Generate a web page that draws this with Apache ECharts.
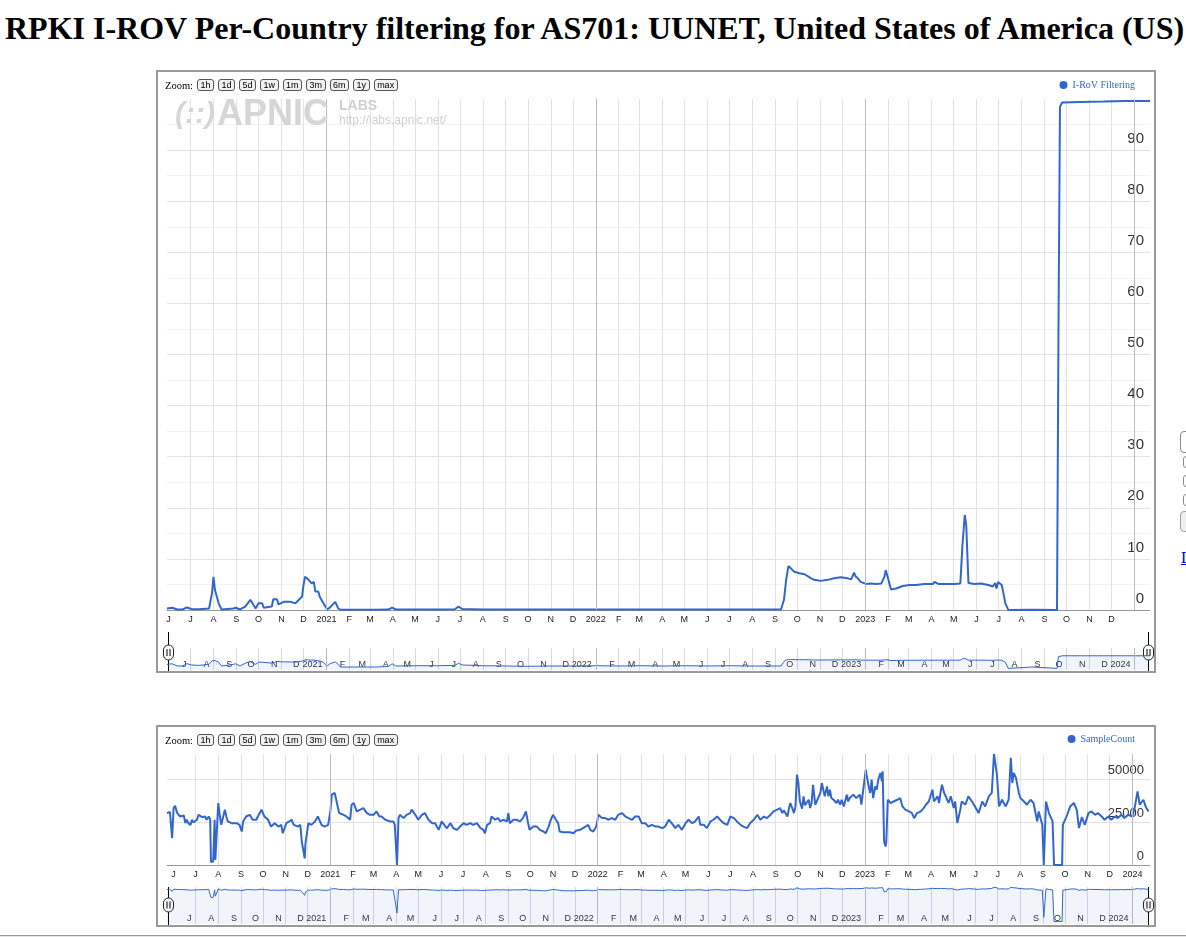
<!DOCTYPE html>
<html>
<head>
<meta charset="utf-8">
<title>RPKI I-ROV Per-Country filtering for AS701</title>
<script src="https://cdn.jsdelivr.net/npm/echarts@6/dist/echarts.min.js"></script>
<style>
  html, body { margin: 0; padding: 0; width: 1186px; height: 937px; overflow: hidden; background: #fff; }
  h1 { position: absolute; left: 5px; top: 12px; margin: 0; white-space: nowrap; color: #000;
       font: bold 32px/32px "Liberation Serif", "Times New Roman", serif; }
  .box { position: absolute; left: 156px; width: 996px; border: 2px solid #9a9a9a; }
  #box1 { top: 70px; height: 599px; }
  #box2 { top: 725px; height: 198px; }
  .chart { position: absolute; left: 0; top: 0; width: 996px; height: 100%; }
  .zoombar { position: absolute; left: 7px; top: 7px; display: flex; align-items: center; gap: 4px; z-index: 2;
             font: 10.5px "Liberation Serif", serif; color: #000; }
  .zoombar button { box-sizing: border-box; height: 12px; margin: 0; padding: 0 2.5px; line-height: 10px;
                    font: 9px "Liberation Sans", Arial, sans-serif; color: #000;
                    border: 1px solid #555; border-radius: 3px; background: #f2f2f2; }
  .hr { position: absolute; left: 0; top: 935px; width: 1186px; border-top: 1px solid #9a9a9a; border-bottom: 1px solid #e6e6e6; }
  .side { position: absolute; box-sizing: border-box; border: 1px solid #8a8a8a; border-radius: 4px; background: #fff; }
  .side.btn { background: #efefef; border-color: #a0a0a0; }
  .side-link { position: absolute; left: 1181px; top: 549px; font: 16px "Liberation Serif", serif; color: #0000ee; text-decoration: underline; white-space: nowrap; }
</style>
</head>
<body>
<h1>RPKI I-ROV Per-Country filtering for AS701: UUNET, United States of America (US)</h1>

<div class="box" id="box1">
  <div class="chart" id="chart1"></div>
  <div class="zoombar"><span>Zoom:</span><button>1h</button><button>1d</button><button>5d</button><button>1w</button><button>1m</button><button>3m</button><button>6m</button><button>1y</button><button>max</button></div>
</div>

<div class="box" id="box2">
  <div class="chart" id="chart2"></div>
  <div class="zoombar"><span>Zoom:</span><button>1h</button><button>1d</button><button>5d</button><button>1w</button><button>1m</button><button>3m</button><button>6m</button><button>1y</button><button>max</button></div>
</div>

<div class="hr"></div>

<div class="side" style="left:1180px;top:431px;width:40px;height:22px;"></div>
<div class="side" style="left:1183px;top:456px;width:12px;height:12px;border-radius:3px;"></div>
<div class="side" style="left:1183px;top:475px;width:12px;height:12px;border-radius:3px;"></div>
<div class="side" style="left:1183px;top:494px;width:12px;height:12px;border-radius:3px;"></div>
<div class="side btn" style="left:1180px;top:511px;width:40px;height:21px;"></div>
<a class="side-link">Download</a>

<script>
// axis labels
const monthLetters = ['J', 'F', 'M', 'A', 'M', 'J', 'J', 'A', 'S', 'O', 'N', 'D'];
const yearStarts = ['2021-01-01', '2022-01-01', '2023-01-01', '2024-01-01'];

// I-RoV filtering (%)
const irovRange = ['2020-05-30', '2024-01-22'];
const irovYLabels = [0, 10, 20, 30, 40, 50, 60, 70, 80, 90];
const irovDates = [
  '2020-05-30','2020-06-06','2020-06-13','2020-06-20','2020-06-26','2020-07-02','2020-07-12','2020-07-26','2020-07-30','2020-08-01',
  '2020-08-03','2020-08-08','2020-08-12','2020-08-28','2020-08-31','2020-09-06','2020-09-13','2020-09-20','2020-09-27','2020-10-01',
  '2020-10-06','2020-10-08','2020-10-19','2020-10-21','2020-10-26','2020-10-28','2020-11-04','2020-11-13','2020-11-20','2020-11-24',
  '2020-11-29','2020-12-01','2020-12-03','2020-12-08','2020-12-10','2020-12-12','2020-12-15','2020-12-17','2020-12-21','2020-12-23',
  '2020-12-28','2021-01-02','2021-01-06','2021-01-13','2021-01-17','2021-01-20','2021-02-15','2021-03-10','2021-03-26','2021-03-31',
  '2021-04-05','2021-05-01','2021-06-01','2021-06-24','2021-06-29','2021-07-04','2021-08-01','2021-09-01','2021-10-01','2021-11-01',
  '2021-12-01','2022-01-01','2022-02-01','2022-03-01','2022-04-01','2022-05-01','2022-06-01','2022-07-01','2022-08-01','2022-09-09',
  '2022-09-13','2022-09-16','2022-09-19','2022-09-22','2022-09-27','2022-10-04','2022-10-11','2022-10-13','2022-10-20','2022-10-24',
  '2022-11-02','2022-11-11','2022-11-20','2022-11-29','2022-12-08','2022-12-13','2022-12-17','2022-12-19','2022-12-22','2022-12-26',
  '2023-01-02','2023-01-09','2023-01-16','2023-01-23','2023-01-27','2023-01-29','2023-02-01','2023-02-05','2023-02-12','2023-02-21',
  '2023-03-02','2023-03-11','2023-03-22','2023-04-03','2023-04-05','2023-04-10','2023-04-23','2023-05-02','2023-05-10','2023-05-13',
  '2023-05-16','2023-05-18','2023-05-21','2023-05-29','2023-06-07','2023-06-17','2023-06-23','2023-06-26','2023-06-28','2023-06-30',
  '2023-07-05','2023-07-07','2023-07-10','2023-07-14','2023-08-15','2023-09-18','2023-09-20','2023-09-22','2023-09-25','2023-10-20',
  '2023-11-20','2023-12-20','2024-01-22'
];
const irovValues = [
  0.3, 0.45, 0.1, 0.1, 0.5, 0.2, 0.15, 0.3, 3.3, 6.5,
  3.9, 1.3, 0.1, 0.3, 0.45, 0.1, 0.65, 2.0, 0.3, 1.3,
  1.3, 0.45, 0.7, 2.1, 2.1, 1.1, 1.6, 1.6, 1.3, 1.9,
  2.6, 4.9, 6.5, 5.9, 5.8, 5.2, 5.5, 3.6, 3.6, 2.6,
  1.3, 0.1, 0.5, 1.6, 0.3, 0.05, 0.05, 0.05, 0.08, 0.45,
  0.1, 0.12, 0.12, 0.15, 0.65, 0.2, 0.12, 0.1, 0.08, 0.1,
  0.1, 0.12, 0.1, 0.12, 0.1, 0.12, 0.1, 0.12, 0.1, 0.1,
  2.0, 5.9, 8.6, 8.2, 7.5, 7.2, 7.0, 6.8, 6.2, 5.9,
  5.7, 5.9, 6.2, 6.4, 6.2, 6.0, 7.3, 6.6, 6.2, 5.5,
  5.1, 5.2, 5.1, 5.2, 6.5, 7.8, 6.2, 4.0, 4.2, 4.7,
  4.9, 4.9, 5.1, 5.1, 5.5, 5.1, 5.1, 5.1, 5.2, 13.0,
  18.6, 16.6, 5.3, 5.1, 5.2, 4.9, 4.6, 5.3, 4.2, 5.5,
  4.9, 3.6, 1.3, 0.02, 0.05, 0.02, 55, 98.5, 99.3, 99.4,
  99.5, 99.6, 99.6
];

// sample count
const sampleRange = ['2020-05-23', '2024-01-25'];
const sampleYLabels = [0, 25000, 50000];
const sampleDates = [
  '2020-05-23','2020-05-27','2020-05-30','2020-06-01','2020-06-03','2020-06-06','2020-06-08','2020-06-10','2020-06-15','2020-06-17',
  '2020-06-19','2020-06-21','2020-06-24','2020-06-26','2020-06-28','2020-07-03','2020-07-05','2020-07-10','2020-07-14','2020-07-16',
  '2020-07-19','2020-07-21','2020-07-22','2020-07-25','2020-07-27','2020-07-28','2020-07-30','2020-08-01','2020-08-03','2020-08-05',
  '2020-08-10','2020-08-12','2020-08-14','2020-08-19','2020-08-21','2020-08-26','2020-08-30','2020-09-02','2020-09-04','2020-09-08',
  '2020-09-13','2020-09-17','2020-09-22','2020-09-24','2020-09-29','2020-10-03','2020-10-08','2020-10-12','2020-10-17','2020-10-22',
  '2020-10-26','2020-10-28','2020-11-02','2020-11-06','2020-11-09','2020-11-12','2020-11-18','2020-11-21','2020-11-23','2020-11-27',
  '2020-11-28','2020-12-02','2020-12-06','2020-12-11','2020-12-15','2020-12-20','2020-12-24','2020-12-29','2021-01-01','2021-01-03',
  '2021-01-05','2021-01-07','2021-01-10','2021-01-13','2021-01-19','2021-01-23','2021-01-28','2021-01-30','2021-02-02','2021-02-06',
  '2021-02-11','2021-02-15','2021-02-20','2021-02-24','2021-03-01','2021-03-05','2021-03-09','2021-03-12','2021-03-17','2021-03-19',
  '2021-03-24','2021-03-28','2021-03-30','2021-04-02','2021-04-04','2021-04-06','2021-04-11','2021-04-15','2021-04-20','2021-04-22',
  '2021-04-27','2021-05-01','2021-05-06','2021-05-10','2021-05-15','2021-05-20','2021-05-24','2021-05-29','2021-06-02','2021-06-09',
  '2021-06-14','2021-06-18','2021-06-23','2021-06-27','2021-07-02','2021-07-06','2021-07-11','2021-07-15','2021-07-20','2021-07-25',
  '2021-07-29','2021-07-31','2021-08-03','2021-08-07','2021-08-09','2021-08-14','2021-08-18','2021-08-21','2021-08-25','2021-08-30',
  '2021-09-01','2021-09-03','2021-09-08','2021-09-12','2021-09-17','2021-09-21','2021-09-25','2021-09-28','2021-09-30','2021-10-05',
  '2021-10-10','2021-10-14','2021-10-19','2021-10-22','2021-10-26','2021-10-29','2021-11-01','2021-11-05','2021-11-08','2021-11-10',
  '2021-11-15','2021-11-20','2021-11-24','2021-11-29','2021-12-02','2021-12-08','2021-12-12','2021-12-19','2021-12-22','2021-12-26',
  '2021-12-30','2022-01-02','2022-01-07','2022-01-11','2022-01-16','2022-01-20','2022-01-25','2022-01-29','2022-02-03','2022-02-08',
  '2022-02-12','2022-02-17','2022-02-21','2022-02-26','2022-03-02','2022-03-07','2022-03-11','2022-03-16','2022-03-21','2022-03-25',
  '2022-03-30','2022-04-03','2022-04-08','2022-04-12','2022-04-17','2022-04-21','2022-04-26','2022-05-01','2022-05-05','2022-05-10',
  '2022-05-14','2022-05-19','2022-05-21','2022-05-26','2022-05-30','2022-06-04','2022-06-08','2022-06-13','2022-06-17','2022-06-22',
  '2022-06-27','2022-07-01','2022-07-06','2022-07-10','2022-07-15','2022-07-19','2022-07-24','2022-07-28','2022-08-02','2022-08-07',
  '2022-08-11','2022-08-16','2022-08-20','2022-08-25','2022-08-29','2022-09-03','2022-09-07','2022-09-10','2022-09-12','2022-09-17',
  '2022-09-19','2022-09-21','2022-09-26','2022-09-28','2022-09-30','2022-10-02','2022-10-04','2022-10-07','2022-10-09','2022-10-11',
  '2022-10-13','2022-10-16','2022-10-18','2022-10-20','2022-10-22','2022-10-25','2022-10-27','2022-11-01','2022-11-03','2022-11-05',
  '2022-11-07','2022-11-10','2022-11-12','2022-11-14','2022-11-16','2022-11-19','2022-11-21','2022-11-23','2022-11-25','2022-11-28',
  '2022-11-30','2022-12-03','2022-12-07','2022-12-09','2022-12-11','2022-12-16','2022-12-20','2022-12-25','2022-12-27','2022-12-29',
  '2023-01-02','2023-01-03','2023-01-06','2023-01-08','2023-01-10','2023-01-12','2023-01-15','2023-01-17','2023-01-19','2023-01-22',
  '2023-01-24','2023-01-25','2023-01-27','2023-01-29','2023-01-30','2023-02-01','2023-02-05','2023-02-09','2023-02-14','2023-02-18',
  '2023-02-21','2023-02-25','2023-03-02','2023-03-06','2023-03-09','2023-03-13','2023-03-18','2023-03-22','2023-03-25','2023-03-29',
  '2023-04-03','2023-04-05','2023-04-10','2023-04-12','2023-04-14','2023-04-16','2023-04-19','2023-04-21','2023-04-25','2023-04-28',
  '2023-05-02','2023-05-04','2023-05-07','2023-05-11','2023-05-13','2023-05-18','2023-05-22','2023-05-27','2023-05-31','2023-06-05',
  '2023-06-10','2023-06-14','2023-06-19','2023-06-23','2023-06-26','2023-06-28','2023-06-30','2023-07-03','2023-07-07','2023-07-12',
  '2023-07-16','2023-07-19','2023-07-21','2023-07-23','2023-07-26','2023-07-30','2023-08-01','2023-08-06','2023-08-10','2023-08-15',
  '2023-08-19','2023-08-24','2023-08-26','2023-08-31','2023-09-02','2023-09-05','2023-09-09','2023-09-14','2023-09-16','2023-09-22',
  '2023-09-27','2023-09-28','2023-10-04','2023-10-08','2023-10-13','2023-10-17','2023-10-20','2023-10-24','2023-10-28','2023-11-02',
  '2023-11-06','2023-11-11','2023-11-15','2023-11-20','2023-11-24','2023-11-29','2023-12-03','2023-12-08','2023-12-12','2023-12-17',
  '2023-12-21','2023-12-26','2024-01-01','2024-01-04','2024-01-08','2024-01-11','2024-01-16','2024-01-19','2024-01-23'
];
const sampleValues = [
  30400, 31000, 15700, 33300, 34600, 30400, 31000, 28400, 29000, 24500,
  26500, 24500, 23500, 26500, 25000, 26500, 29400, 28000, 28400, 26500,
  28400, 26500, 1950, 1950, 26500, 3000, 1950, 36300, 29400, 23500,
  32400, 28400, 25500, 24500, 23500, 24500, 23500, 19600, 25500, 28400,
  29400, 26500, 26500, 28400, 32400, 28400, 26500, 22500, 24500, 22500,
  23500, 18600, 24500, 25500, 26500, 23500, 22500, 23500, 13700, 3900,
  12500, 24500, 23500, 25500, 28400, 23500, 22500, 23500, 31350, 41200,
  40300, 42200, 36300, 30400, 29400, 28400, 26500, 35300, 36300, 31350,
  32400, 33350, 30400, 29400, 29400, 31350, 28400, 28400, 26500, 27450,
  25500, 25500, 23500, 9, 27450, 29400, 27450, 29400, 30400, 32400,
  29400, 26500, 29400, 30400, 26500, 24500, 24500, 20600, 25500, 21500,
  24500, 21500, 20600, 22500, 24500, 23500, 24500, 23500, 24500, 21600,
  20600, 18600, 23500, 24500, 28400, 26500, 27450, 25500, 26500, 25500,
  30400, 24500, 26500, 26500, 25500, 27450, 31350, 24500, 20600, 22500,
  22500, 20600, 19600, 18600, 22500, 26500, 29400, 26500, 24500, 19600,
  19200, 19200, 19200, 18600, 20000, 20600, 21600, 23500, 20600, 19600,
  22500, 29400, 27450, 27450, 26500, 27450, 26500, 29400, 30400, 28400,
  27450, 26500, 28400, 28400, 24500, 24500, 22500, 23500, 22500, 22500,
  21600, 22500, 26500, 24500, 21600, 23500, 20600, 24500, 26500, 24500,
  25500, 28400, 23500, 23500, 21600, 25500, 26500, 28400, 26500, 24500,
  23500, 28400, 27450, 25500, 23500, 22500, 21600, 24500, 26500, 29400,
  26500, 28400, 27450, 29400, 31350, 32400, 33350, 30400, 32000, 28400,
  33000, 36300, 30400, 34300, 52900, 48000, 37200, 33000, 40200, 35000,
  34300, 38200, 33350, 36300, 47000, 35300, 37200, 42200, 48000, 44100,
  40200, 46000, 40200, 44100, 39200, 38200, 37200, 36300, 38200, 35300,
  38200, 34300, 41200, 37200, 39200, 41200, 39200, 41200, 35300, 42200,
  55900, 52900, 46000, 42200, 50000, 39200, 46000, 44100, 50000, 53900,
  49000, 54900, 13700, 10800, 13700, 38200, 36300, 37200, 38200, 39200,
  34300, 32400, 31350, 30400, 27450, 30400, 31350, 33350, 35300, 37200,
  44100, 37200, 40200, 36300, 42200, 47000, 42200, 43100, 36300, 40200,
  33350, 37200, 24500, 32400, 37200, 35300, 40200, 37200, 34300, 30400,
  37200, 34300, 40200, 42200, 65000, 59000, 52900, 34300, 38200, 34300,
  38200, 62800, 48000, 53900, 51000, 42200, 39200, 37200, 35300, 38200,
  36300, 25500, 31350, 23500, 2, 37200, 30400, 25500, 0.5, 0.5,
  0.5, 23500, 29400, 34300, 36300, 32400, 21600, 28000, 23500, 30400,
  31350, 29400, 30400, 28400, 26500, 28400, 26500, 28400, 27450, 29400,
  27450, 29400, 28400, 33350, 43100, 35300, 38200, 34300, 31350
];

function day(s) {
  const p = s.split('-').map(Number);
  return new Date(p[0], p[1] - 1, p[2]).getTime();
}

// first day of every month inside the range
function monthTicks(range) {
  const a = new Date(day(range[0]));
  const end = day(range[1]);
  const out = [];
  for (let m = a.getMonth() + 1; ; m++) {
    const t = new Date(a.getFullYear(), m, 1).getTime();
    if (t > end) break;
    out.push(t);
  }
  return out;
}

function monthLabel(v) {
  const d = new Date(v);
  return d.getMonth() === 0 ? String(d.getFullYear()) : monthLetters[d.getMonth()];
}

function handle(x, top, bottom, cy, h) {
  return {
    type: 'group', z: 30, silent: true,
    children: [
      { type: 'line', shape: { x1: x, y1: top, x2: x, y2: bottom }, style: { stroke: '#000', lineWidth: 1 } },
      { type: 'rect', shape: { x: x - 5, y: cy - h / 2, width: 10, height: h, r: 5 }, style: { fill: '#fff', stroke: '#222', lineWidth: 1 } },
      { type: 'line', shape: { x1: x - 1.5, y1: cy - 3.5, x2: x - 1.5, y2: cy + 3.5 }, style: { stroke: '#000', lineWidth: 1 } },
      { type: 'line', shape: { x1: x + 1.5, y1: cy - 3.5, x2: x + 1.5, y2: cy + 3.5 }, style: { stroke: '#000', lineWidth: 1 } }
    ]
  };
}

function timelineOption(c) {
  const t0 = day(c.range[0]);
  const t1 = day(c.range[1]);
  const ticks = monthTicks(c.range);
  const mainLabels = ticks.filter(t => t <= day(c.lastMainLabel));
  const navLabels = ticks.filter(t => t - t0 > 10 * 864e5);
  const main = c.dates.map((d, i) => [day(d), c.values[i]]);
  const nav = c.dates.map((d, i) => [day(d), Math.max(c.values[i], c.navFloor)]);
  const years = yearStarts.map(s => ({ xAxis: day(s) })).filter(o => o.xAxis > t0 && o.xAxis < t1);
  const yearLine = color => ({
    silent: true, symbol: 'none', animation: false,
    label: { show: false }, emphasis: { disabled: true },
    lineStyle: { color: color, width: 1, type: 'solid' },
    data: years
  });
  return {
    animation: false,
    textStyle: { fontFamily: '"Liberation Sans", Arial, sans-serif' },
    legend: {
      data: [c.name], right: 14, top: c.legendTop, icon: 'circle',
      itemWidth: 8, itemHeight: 8, selectedMode: false,
      textStyle: { color: '#3366cc', fontFamily: '"Liberation Serif", serif', fontSize: 10 }
    },
    grid: [
      { left: 9, right: 4, top: c.plotTop, height: c.plotHeight, outerBoundsMode: 'none' },
      { left: 9, right: 4, top: c.navTop, height: c.navHeight, outerBoundsMode: 'none' }
    ],
    xAxis: [
      {
        type: 'value', gridIndex: 0, min: t0, max: t1,
        axisLine: { onZero: false, lineStyle: { color: '#999' } },
        axisTick: { show: false, customValues: ticks },
        axisLabel: { customValues: mainLabels, formatter: monthLabel, fontSize: 9, color: '#222', margin: 5, hideOverlap: false },
        splitLine: { show: true, showMinLine: false, showMaxLine: false, lineStyle: { color: '#e3e3e3' } }
      },
      {
        type: 'value', gridIndex: 1, min: t0, max: t1,
        axisLine: { show: false },
        axisTick: { show: false, customValues: ticks },
        axisLabel: {
          customValues: navLabels, formatter: monthLabel, inside: true, align: 'right', verticalAlign: 'middle',
          padding: [0, 4, 0, 0], margin: 5.5, fontSize: 9, color: '#333', hideOverlap: false
        },
        splitLine: { show: true, showMinLine: false, showMaxLine: false, lineStyle: { color: '#d6d9e2' } }
      }
    ],
    yAxis: [
      {
        type: 'value', gridIndex: 0, position: 'right', min: c.yMin, max: c.yMax, interval: c.yInterval,
        axisLine: { show: false }, axisTick: { show: false },
        axisLabel: {
          inside: true, margin: 6, verticalAlign: 'bottom', padding: [0, 0, c.yPad, 0],
          fontSize: c.yFont, color: '#333',
          formatter: v => (c.yLabels.includes(v) ? String(v) : '')
        },
        splitLine: { show: true, showMaxLine: false, lineStyle: { color: c.ySplitColors } }
      },
      {
        type: 'log', gridIndex: 1, min: c.navMin, max: c.navMax,
        axisLine: { show: false }, axisTick: { show: false }, axisLabel: { show: false }, splitLine: { show: false }
      }
    ],
    series: [
      {
        name: c.name, type: 'line', xAxisIndex: 0, yAxisIndex: 0, data: main,
        symbol: 'none', showSymbol: false, z: 3,
        lineStyle: { color: '#3366cc', width: 2 }, itemStyle: { color: '#3366cc' },
        markLine: yearLine('#bcbcbc')
      },
      {
        name: c.name + ' range', type: 'line', xAxisIndex: 1, yAxisIndex: 1, data: nav,
        symbol: 'none', showSymbol: false,
        lineStyle: { color: '#3366cc', width: 1 }, itemStyle: { color: '#3366cc' },
        areaStyle: { color: 'rgba(51,102,204,0.1)', origin: 'start' },
        markLine: yearLine('#b4b8c4')
      }
    ],
    graphic: c.graphic
  };
}

const watermark = [
  { type: 'text', x: 17, y: 43, z: 20, silent: true,
    style: { text: '(::)', fill: '#d6d6d6', font: 'italic bold 30px "Liberation Sans", Arial, sans-serif', verticalAlign: 'middle' } },
  { type: 'text', x: 59, y: 43, z: 20, silent: true,
    style: { text: 'APNIC', fill: '#d6d6d6', font: 'bold 36px "Liberation Sans", Arial, sans-serif', verticalAlign: 'middle' } },
  { type: 'text', x: 181, y: 34, z: 20, silent: true,
    style: { text: 'LABS', fill: '#d0d0d0', font: 'bold 14px "Liberation Sans", Arial, sans-serif', verticalAlign: 'middle' } },
  { type: 'text', x: 181, y: 49, z: 20, silent: true,
    style: { text: 'http://labs.apnic.net/', fill: '#d0d0d0', font: '12px "Liberation Sans", Arial, sans-serif', verticalAlign: 'middle' } }
];

const chart1 = echarts.init(document.getElementById('chart1'));
chart1.setOption(timelineOption({
  name: 'I-RoV Filtering', dates: irovDates, values: irovValues,
  range: irovRange, lastMainLabel: '2023-12-01',
  legendTop: 3, plotTop: 27, plotHeight: 511, navTop: 576, navHeight: 22,
  yMin: 0, yMax: 100, yInterval: 5, yLabels: irovYLabels, yFont: 15, yPad: 4,
  ySplitColors: ['#e2e2ea', '#f3f3f3'],
  navMin: 0.0066, navMax: 19500, navFloor: 0.01,
  graphic: watermark.concat([handle(10.5, 560, 600, 580.5, 15), handle(990.5, 560, 600, 580.5, 15)])
}));

const chart2 = echarts.init(document.getElementById('chart2'));
chart2.setOption(timelineOption({
  name: 'SampleCount', dates: sampleDates, values: sampleValues,
  range: sampleRange, lastMainLabel: '2024-01-01',
  legendTop: 2, plotTop: 27, plotHeight: 111, navTop: 160, navHeight: 37,
  yMin: 0, yMax: 65000, yInterval: 25000, yLabels: sampleYLabels, yFont: 13, yPad: 2.5,
  ySplitColors: ['#e2e2ea'],
  navMin: 0.21, navMax: 70000, navFloor: 0.3,
  graphic: [handle(10.5, 160, 198, 178, 14), handle(990.5, 160, 198, 178, 14)]
}));
</script>
</body>
</html>
